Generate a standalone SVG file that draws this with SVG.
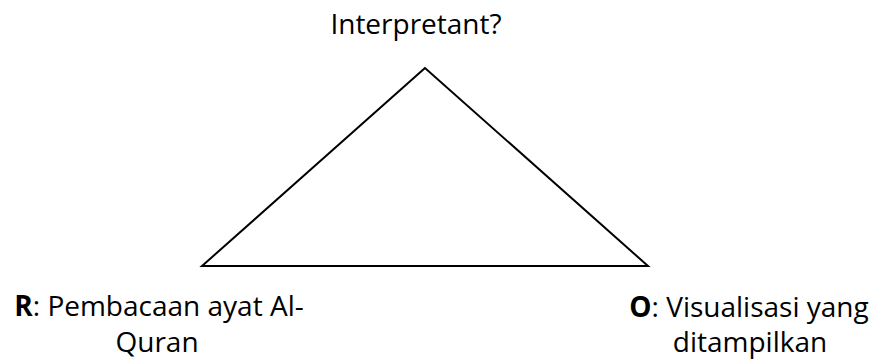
<svg xmlns="http://www.w3.org/2000/svg" width="878" height="360" viewBox="0 0 878 360">
<style>
text{font-family:"Open Sans","Noto Sans",sans-serif;font-size:28px;fill:#000;text-anchor:middle}
.b{font-weight:bold}
.edge{stroke:#000;stroke-width:2;fill:none;stroke-linejoin:miter}
</style>
<rect width="878" height="360" fill="#fff"/>
<g id="connectors">
<polygon class="edge" points="425,68 202,266 648,266"/>
</g>
<g id="interpretant">
<text x="416" y="34">Interpretant?</text>
</g>
<g id="representamen">
<text x="159" y="316"><tspan class="b">R</tspan>: Pembacaan ayat Al-</text>
<text x="157" y="352">Quran</text>
</g>
<g id="object">
<text x="749" y="317"><tspan class="b">O</tspan>: Visualisasi yang</text>
<text x="750" y="352">ditampilkan</text>
</g>
</svg>
